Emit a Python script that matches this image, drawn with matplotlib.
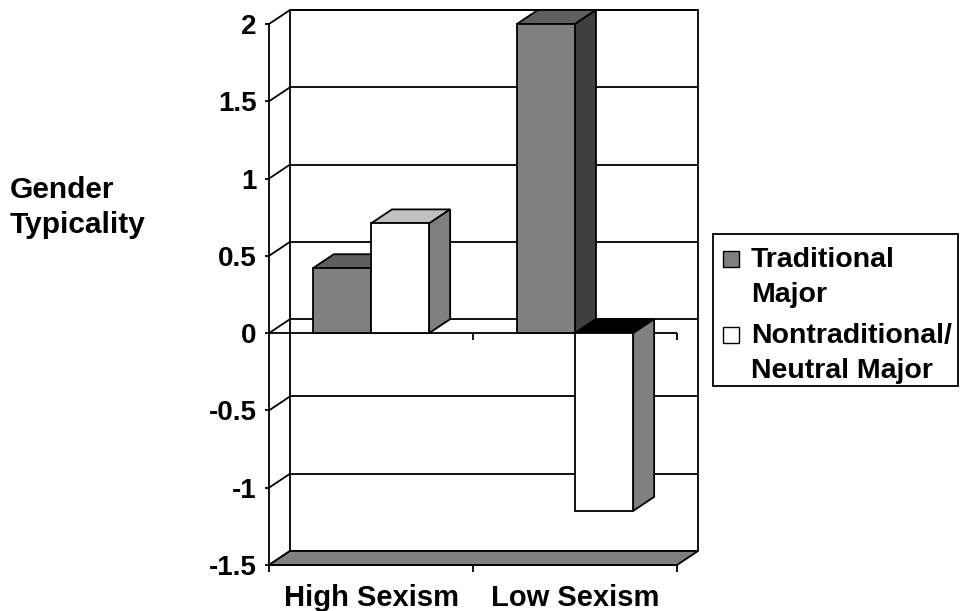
"""
    Gender typicality by sexism level, drawn as an Excel-style 3D column chart
"""

import matplotlib.pyplot as plt
from matplotlib.patches import Polygon, Rectangle

plt.rcParams["font.family"] = ["Liberation Sans", "DejaVu Sans"]
plt.rcParams["font.weight"] = "bold"
plt.rcParams["axes.unicode_minus"] = False

categories = ["High Sexism", "Low Sexism"]
series_names = ["Traditional\nMajor", "Nontraditional/\nNeutral Major"]
traditional = [0.42, 2.0]
nontraditional = [0.71, -1.15]
y_ticks = [-1.5, -1, -0.5, 0, 0.5, 1, 1.5, 2]
y_tick_labels = ["-1.5", "-1", "-0.5", "0", "0.5", "1", "1.5", "2"]

W, H = 960, 611
FS = 20


def fig_px(x, y):
    # pixel position (from top-left) -> figure fraction
    return x / W, 1 - y / H


fig = plt.figure(figsize=(W / 100, H / 100), dpi=100)
left, top = fig_px(269, 24)
right, bottom = fig_px(677, 565)
ax = fig.add_axes([left, bottom, right - left, top - bottom])
ax.set_xlim(0, len(categories))
ax.set_ylim(y_ticks[0], y_ticks[-1])
ax.patch.set_visible(False)

# depth of the fake 3D box, in data units (about 21px right, 14px up)
DX = 21 / (408 / 2)
DY = 14 / (541 / 3.5)
BW = 0.285
LW = 1.3


def face(pts, color, z):
    ax.add_patch(Polygon(pts, closed=True, facecolor=color, edgecolor="black",
                         lw=LW, zorder=z, clip_on=False, joinstyle="miter"))


def line(xs, ys, z=1.0):
    ax.plot(xs, ys, color="black", lw=LW, zorder=z, clip_on=False,
            solid_capstyle="butt")


x_max = len(categories)
y_min, y_max = y_ticks[0], y_ticks[-1]

# back wall with gridlines, left wall diagonals
face([(DX, y_min + DY), (x_max + DX, y_min + DY),
      (x_max + DX, y_max + DY), (DX, y_max + DY)], "white", 0.5)
for t in y_ticks:
    line([DX, x_max + DX], [t + DY, t + DY], 0.6)
    line([0, DX], [t, t + DY], 0.6)

# floor
face([(0, y_min), (x_max, y_min), (x_max + DX, y_min + DY),
      (DX, y_min + DY)], "#808080", 0.8)

# front zero line with its ticks
line([0, x_max], [0, 0], 0.9)
tick_len = 7 / (541 / 3.5)
for k in range(1, x_max + 1):
    line([k, k], [0, -tick_len], 0.9)

colors = [
    {"front": "#808080", "top": "#5f5f5f", "side": "#404040"},
    {"front": "white", "top": "#c0c0c0", "side": "#808080"},
]


def draw_bar(x0, x1, v, c, z):
    if v >= 0:
        face([(x0, v), (x1, v), (x1 + DX, v + DY), (x0 + DX, v + DY)], c["top"], z)
    else:
        face([(x0, 0), (x1, 0), (x1 + DX, DY), (x0 + DX, DY)], "black", z)
    face([(x1, 0), (x1, v), (x1 + DX, v + DY), (x1 + DX, DY)], c["side"], z)
    face([(x0, 0), (x1, 0), (x1, v), (x0, v)], c["front"], z + 0.01)


for i in range(len(categories)):
    c = i + 0.5
    draw_bar(c - BW, c, traditional[i], colors[0], 1.0 + i * 0.1)
    draw_bar(c, c + BW, nontraditional[i], colors[1], 1.05 + i * 0.1)

# axes
for s in ["top", "right"]:
    ax.spines[s].set_visible(False)
for s in ["left", "bottom"]:
    ax.spines[s].set_linewidth(LW)
    ax.spines[s].set_zorder(3)
ax.set_yticks(y_ticks, y_tick_labels)
ax.tick_params(axis="y", length=3, width=LW, labelsize=FS, pad=6)
ax.set_xticks(range(x_max + 1), [""] * (x_max + 1))
ax.tick_params(axis="x", which="major", length=5, width=LW)
ax.set_xticks([i + 0.5 for i in range(len(categories))], categories, minor=True)
ax.tick_params(axis="x", which="minor", length=0, labelsize=21, pad=14)

# y label
fig.text(*fig_px(10, 198), "Gender", fontsize=21.5, ha="left", va="baseline")
fig.text(*fig_px(10, 233), "Typicality", fontsize=21.5, ha="left", va="baseline")

# legend
bx0, by0 = fig_px(713, 386)
bx1, by1 = fig_px(958, 234)
fig.patches.append(Rectangle((bx0, by0), bx1 - bx0, by1 - by0, transform=fig.transFigure,
                             facecolor="white", edgecolor="black", lw=LW))
entries = [(267, [267, 302]), (343, [343, 378])]
for (sq_y, baselines), name, c in zip(entries, series_names, colors):
    sx, sy = fig_px(723, sq_y)
    fig.patches.append(Rectangle((sx, sy), 16 / W, 16 / H, transform=fig.transFigure,
                                 facecolor=c["front"], edgecolor="black", lw=1.0))
    for text, b in zip(name.split("\n"), baselines):
        fig.text(*fig_px(751, b), text, fontsize=20.5, ha="left", va="baseline")

fig.savefig("out.png", dpi=100)
